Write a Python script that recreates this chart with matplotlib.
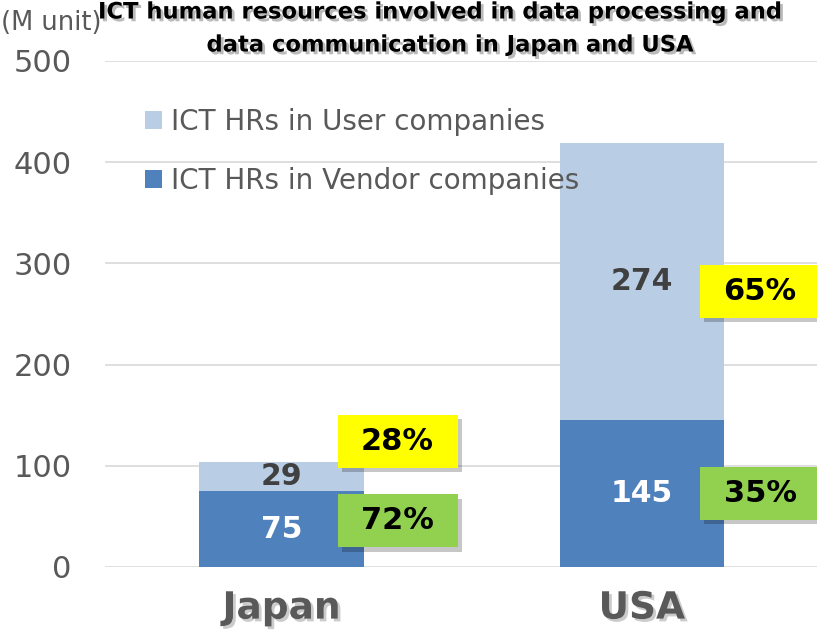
import matplotlib
matplotlib.use("Agg")
import matplotlib.pyplot as plt
import matplotlib.patheffects as pe
from matplotlib.patches import Rectangle

categories = ["Japan", "USA"]
vendor = [75, 145]
user = [29, 274]
vendor_pct = ["72%", "35%"]
user_pct = ["28%", "65%"]
yticks = [0, 100, 200, 300, 400, 500]

C_VENDOR = "#4F81BD"
C_USER = "#B9CDE5"
C_GREEN = "#92D050"
C_YELLOW = "#FFFF00"
GRAY = "#595959"

fig = plt.figure(figsize=(8.17, 6.3), dpi=100)
ax = fig.add_axes([105/817, 63/630, 1 - 105/817, (567-61)/630])

x = list(range(len(categories)))
w = 0.456
ax.bar(x, vendor, w, color=C_VENDOR, label="ICT HRs in Vendor companies", zorder=2)
ax.bar(x, user, w, bottom=vendor, color=C_USER, label="ICT HRs in User companies", zorder=2)

ax.set_ylim(0, 500)
ax.set_xlim(-0.49, 1.486)
ax.set_yticks(yticks)
ax.set_yticklabels([str(t) for t in yticks], fontsize=22, color=GRAY)
ax.yaxis.grid(True, color="#D9D9D9", linewidth=1.2, zorder=0)
ax.set_axisbelow(True)
for s in ax.spines.values():
    s.set_visible(False)
ax.tick_params(axis="y", length=0, pad=24)
ax.tick_params(axis="x", length=0, pad=17)
ax.set_xticks(x)
ax.set_xticklabels(categories, fontsize=27, fontweight="bold", color=GRAY)
for lab in ax.get_xticklabels():
    lab.set_path_effects([pe.withSimplePatchShadow(offset=(2, -2), shadow_rgbFace="#999999", alpha=0.5)])

# value labels
for i in x:
    ax.text(i, vendor[i] / 2, str(vendor[i]), ha="center", va="center",
            fontsize=21.5, fontweight="bold", color="white", zorder=4)
    ax.text(i, vendor[i] + user[i] / 2, str(user[i]), ha="center", va="center",
            fontsize=21.5, fontweight="bold", color="#404040", zorder=4)

# percentage boxes
bw = 120 / 360
bh = 53 / 1.012
box_dx = [0.322, 0.328]
vend_box_y = [45.5, 73]
user_box_y = [124.5, 272]
shadow = [pe.withSimplePatchShadow(offset=(3, -3), shadow_rgbFace="#000000", alpha=0.22)]
for i in x:
    for yc, txt, col in [(vend_box_y[i], vendor_pct[i], C_GREEN), (user_box_y[i], user_pct[i], C_YELLOW)]:
        cx = i + box_dx[i]
        r = Rectangle((cx - bw / 2, yc - bh / 2), bw, bh, facecolor=col, edgecolor="none",
                      zorder=5, clip_on=False)
        r.set_path_effects(shadow)
        ax.add_patch(r)
        ax.text(cx, yc, txt, ha="center", va="center", fontsize=22, fontweight="bold",
                color="black", zorder=6)

# legend
handles, labels = ax.get_legend_handles_labels()
leg = ax.legend(handles[::-1], labels[::-1], loc="upper left", bbox_to_anchor=(145/817, 1 - 108/630),
                bbox_transform=fig.transFigure, frameon=False, fontsize=20,
                handlelength=0.62, handleheight=0.62, handletextpad=0.3, labelspacing=1.1,
                borderpad=0, borderaxespad=0)
for t in leg.get_texts():
    t.set_color(GRAY)
leg.set_zorder(3)

# title and unit
tshadow = [pe.withSimplePatchShadow(offset=(2, -2), shadow_rgbFace="#777777", alpha=0.5)]
t1 = fig.text(440/817, 1 - 12/630, "ICT human resources involved in data processing and",
              ha="center", va="center", fontsize=16.3, fontweight="bold", color="black")
t2 = fig.text(450/817, 1 - 45/630, "data communication in Japan and USA",
              ha="center", va="center", fontsize=16.3, fontweight="bold", color="black")
t1.set_path_effects(tshadow)
t2.set_path_effects(tshadow)
fig.text(1/817, 1 - 23/630, "(M unit)", ha="left", va="center", fontsize=18.5, color=GRAY)

fig.savefig("out.png", dpi=100)
